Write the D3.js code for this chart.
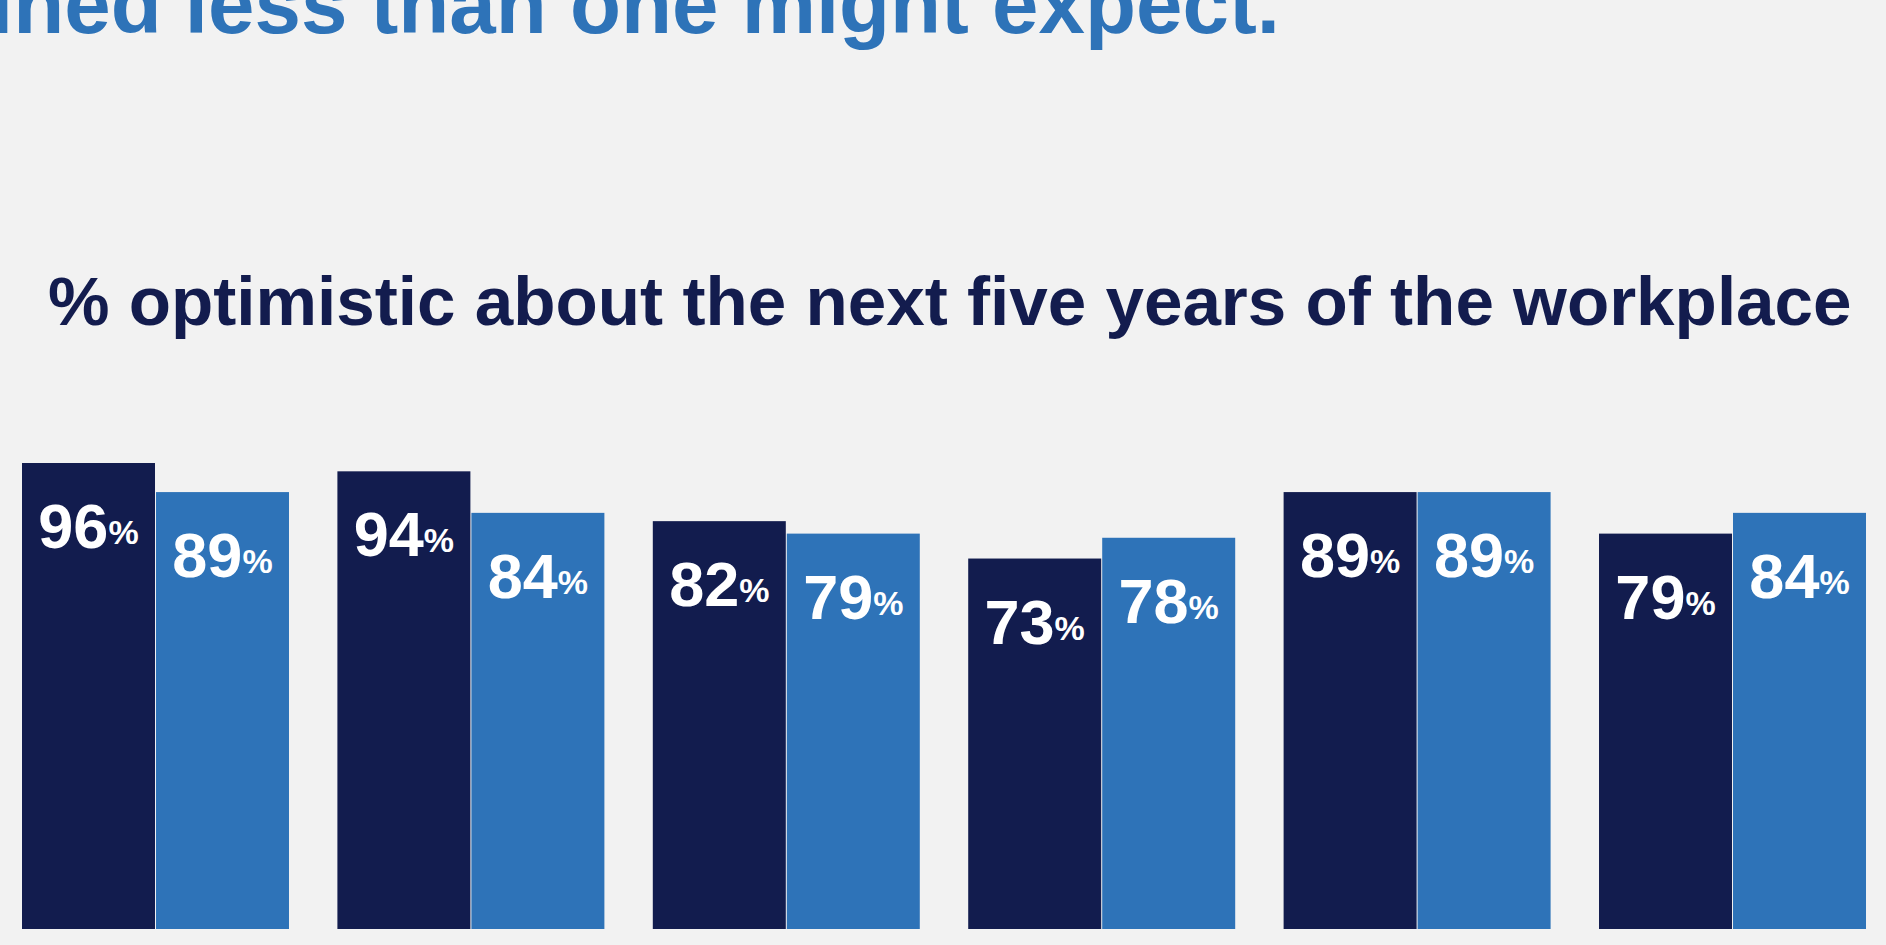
<!DOCTYPE html>
<html><head><meta charset="utf-8">
<script src="https://cdn.jsdelivr.net/npm/d3@7"></script>
<style>html,body{margin:0;padding:0;background:#f2f2f2;overflow:hidden}</style>
</head><body><svg id="chart" width="1886" height="945"></svg>
<script>
// ---- data ----
const headline = "ined less than one might expect.";
const chartTitle = "% optimistic about the next five years of the workplace";
const groups = ["Group 1", "Group 2", "Group 3", "Group 4", "Group 5", "Group 6"];
const seriesNames = ["Series A", "Series B"];
const seriesA = [96, 94, 82, 73, 89, 79];
const seriesB = [89, 84, 79, 78, 89, 84];
const seriesColors = ["#121c4e", "#2e73b8"];

// ---- drawing ----
const W = 1886, H = 945;
const svg = d3.select("#chart");
svg.append("rect").attr("width", W).attr("height", H).attr("fill", "#f2f2f2");
const FONT = "'Liberation Sans', Arial, Helvetica, sans-serif";

function fitWidth(sel, target) {
  const fs = parseFloat(sel.attr("font-size"));
  const w = sel.node().getComputedTextLength();
  sel.attr("font-size", fs * target / w);
}

const hl = svg.append("text")
  .attr("x", -10).attr("y", 33)
  .attr("font-family", FONT).attr("font-weight", "bold")
  .attr("font-size", 80).attr("fill", "#2e73b8")
  .text(headline);
fitWidth(hl, 1290);

const tt = svg.append("text")
  .attr("x", 48).attr("y", 325)
  .attr("font-family", FONT).attr("font-weight", "bold")
  .attr("font-size", 66).attr("fill", "#131c4e")
  .text(chartTitle);
fitWidth(tt, 1804);

const x0 = d3.scaleBand().domain(groups).range([22, 1866]).paddingInner(0.1535).paddingOuter(0);
const x1 = d3.scaleBand().domain(seriesNames).range([0, x0.bandwidth()]).paddingInner(1 / 134);
const y = d3.scaleLinear().domain([-16.2, 100]).range([929, 446.4]);

const rows = groups.map((g, i) => ({ group: g, vals: [
  { s: seriesNames[0], v: seriesA[i], c: seriesColors[0] },
  { s: seriesNames[1], v: seriesB[i], c: seriesColors[1] }
]}));

const gg = svg.selectAll("g.grp").data(rows).join("g")
  .attr("class", "grp")
  .attr("transform", d => `translate(${x0(d.group)},0)`);

gg.selectAll("rect").data(d => d.vals).join("rect")
  .attr("x", d => x1(d.s))
  .attr("width", x1.bandwidth())
  .attr("y", d => y(d.v))
  .attr("height", d => y.range()[0] - y(d.v))
  .attr("fill", d => d.c);

const lab = gg.selectAll("text").data(d => d.vals).join("text")
  .attr("x", d => x1(d.s) + x1.bandwidth() / 2)
  .attr("y", d => y(d.v) + 85)
  .attr("text-anchor", "middle")
  .attr("font-family", FONT).attr("font-weight", "bold")
  .attr("fill", "#ffffff");
lab.append("tspan").attr("font-size", 63).text(d => d.v);
lab.append("tspan").attr("font-size", 34).attr("dy", -4).text("%");
</script>
</body></html>
